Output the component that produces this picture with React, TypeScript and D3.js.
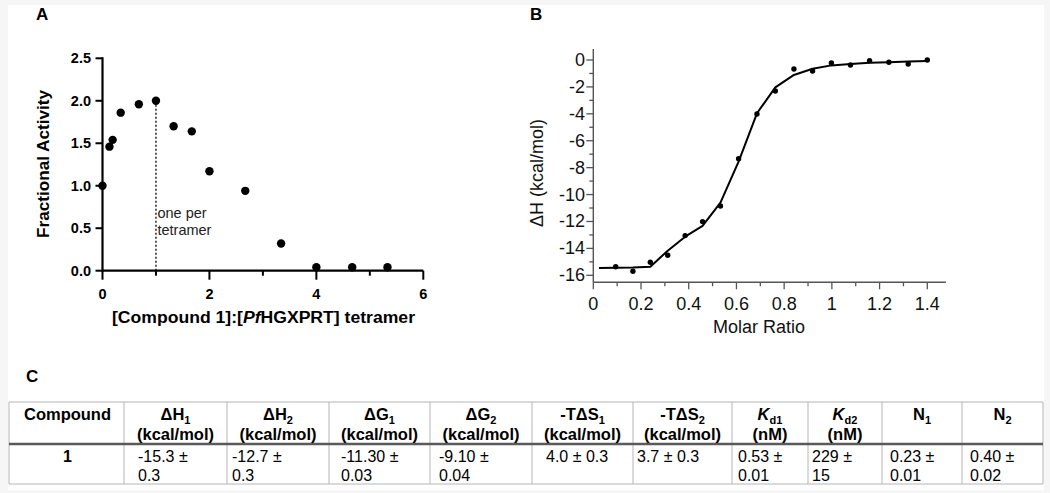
import React from "react";
import * as d3 from "d3";

// ---------- Panel A data ----------
const ratioA = [0, 0.13, 0.19, 0.34, 0.68, 1.0, 1.33, 1.67, 2.0, 2.67, 3.34, 4.0, 4.67, 5.33];
const activityA = [1.0, 1.46, 1.54, 1.86, 1.96, 2.0, 1.7, 1.64, 1.17, 0.94, 0.32, 0.04, 0.04, 0.04];
const xTicksA = [0, 2, 4, 6];
const xMinorA = [1, 3, 5];
const yTicksA = [0, 0.5, 1.0, 1.5, 2.0, 2.5];
const markerA = 1.0;

// ---------- Panel B data ----------
const ratioB = [0.094, 0.166, 0.239, 0.312, 0.385, 0.458, 0.533, 0.609, 0.686, 0.763, 0.841, 0.919, 0.998, 1.078, 1.158, 1.239, 1.32, 1.4];
const dhB = [-15.36, -15.7, -15.03, -14.51, -13.05, -12.01, -10.85, -7.33, -4.01, -2.3, -0.67, -0.82, -0.22, -0.37, -0.05, -0.17, -0.3, 0.0];
const fitRatioB = [0.024, 0.094, 0.166, 0.239, 0.312, 0.385, 0.458, 0.533, 0.609, 0.686, 0.763, 0.841, 0.919, 0.998, 1.078, 1.158, 1.239, 1.32, 1.4];
const fitDhB = [-15.45, -15.44, -15.42, -15.36, -14.17, -13.13, -12.33, -10.6, -7.55, -3.96, -2.03, -1.11, -0.65, -0.4, -0.3, -0.21, -0.16, -0.12, -0.07];
const xTicksB = [0, 0.2, 0.4, 0.6, 0.8, 1.0, 1.2, 1.4];
const xMinorB = [0.1, 0.3, 0.5, 0.7, 0.9, 1.1, 1.3];
const yTicksB = [0, -2, -4, -6, -8, -10, -12, -14, -16];
const yMinorB = [-1, -3, -5, -7, -9, -11, -13, -15];

// ---------- Panel C data ----------
const headMain = ["Compound", "ΔH", "ΔH", "ΔG", "ΔG", "-TΔS", "-TΔS", "K", "K", "N", "N"];
const headSub = ["", "1", "2", "1", "2", "1", "2", "d1", "d2", "1", "2"];
const headUnit = ["", "(kcal/mol)", "(kcal/mol)", "(kcal/mol)", "(kcal/mol)", "(kcal/mol)", "(kcal/mol)", "(nM)", "(nM)", "", ""];
const rowValues = [
  ["1"],
  ["-15.3 ±", "0.3"],
  ["-12.7 ±", "0.3"],
  ["-11.30 ±", "0.03"],
  ["-9.10 ±", "0.04"],
  ["4.0 ± 0.3"],
  ["3.7 ± 0.3"],
  ["0.53 ±", "0.01"],
  ["229 ±", "15"],
  ["0.23 ±", "0.01"],
  ["0.40 ±", "0.02"],
];

// ---------- layout ----------
const colEdges = [9, 124, 227, 329, 430, 532, 633, 732, 808, 882, 962, 1043];
const cellPad = [0, 14, 5, 12, 9, 14, 4, 6, 4, 8, 8];
const FONT = "Liberation Sans, Arial, sans-serif";

export default function App() {
  const xA = d3.scaleLinear().domain([0, 6]).range([102.5, 423.3]);
  const yA = d3.scaleLinear().domain([0, 2.5]).range([270.7, 58.3]);
  const xB = d3.scaleLinear().domain([0, 1.4]).range([593.3, 927.3]);
  const yB = d3.scaleLinear().domain([-16, 0]).range([275.3, 60]);
  const fitLine = d3
    .line<number>()
    .x((d, i) => xB(fitRatioB[i]))
    .y((d) => yB(d));
  const fmtA = d3.format(".1f");
  const fmtB = (v: number) => (v === 0 ? "0" : String(v).replace("\u2212", "-"));

  const yBottomB = yB(-16.52);
  const yTopB = yB(0.82);
  const xEndB = xB(1.478);

  const tTop = 402, tSep = 444, tBot = 484;

  return (
    <svg
      width={1050}
      height={493}
      style={{ position: "absolute", left: 0, top: 0 }}
      fontFamily={FONT}
    >
      <rect x={0} y={0} width={1050} height={493} fill="#f6f6f6" />
      <rect x={8} y={5} width={1036} height={485} fill="#ffffff" />

      {/* ---------------- Panel A ---------------- */}
      <text x={36} y={20} fontSize={17} fontWeight="bold">A</text>
      <line x1={xA(0)} x2={xA(6)} y1={yA(0)} y2={yA(0)} stroke="#000" strokeWidth={2.2} />
      <line x1={xA(0)} x2={xA(0)} y1={yA(0) + 1} y2={yA(2.5) - 1} stroke="#000" strokeWidth={2.2} />
      {yTicksA.map((t) => (
        <g key={"ya" + t}>
          <line x1={xA(0) - 7} x2={xA(0)} y1={yA(t)} y2={yA(t)} stroke="#000" strokeWidth={2} />
          <text x={91} y={yA(t)} dominantBaseline="central" textAnchor="end" fontSize={14.5} fontWeight="bold">
            {fmtA(t)}
          </text>
        </g>
      ))}
      {xTicksA.map((t) => (
        <g key={"xa" + t}>
          <line x1={xA(t)} x2={xA(t)} y1={yA(0)} y2={yA(0) + 9} stroke="#000" strokeWidth={2} />
          <text x={xA(t)} y={293.5} dominantBaseline="central" textAnchor="middle" fontSize={14.5} fontWeight="bold">
            {t}
          </text>
        </g>
      ))}
      {xMinorA.map((t) => (
        <line key={"xma" + t} x1={xA(t)} x2={xA(t)} y1={yA(0)} y2={yA(0) + 5} stroke="#000" strokeWidth={2} />
      ))}
      <line
        x1={xA(markerA)}
        x2={xA(markerA)}
        y1={yA(2.0)}
        y2={yA(0)}
        stroke="#000"
        strokeWidth={1.3}
        strokeDasharray="2,2"
      />
      <text x={xA(markerA) + 1.5} y={213} dominantBaseline="central" fontSize={14.5} fill="#222">one per</text>
      <text x={xA(markerA) + 1.5} y={230} dominantBaseline="central" fontSize={14.5} fill="#222">tetramer</text>
      {ratioA.map((r, i) => (
        <circle key={"pa" + i} cx={xA(r)} cy={yA(activityA[i])} r={4.2} fill="#000" />
      ))}
      <text
        transform="translate(43.5,164) rotate(-90)"
        textAnchor="middle"
        dominantBaseline="central"
        fontSize={15.8}
        fontWeight="bold"
        textLength={148}
        lengthAdjust="spacingAndGlyphs"
      >
        Fractional Activity
      </text>
      <text
        x={263.5}
        y={317}
        textAnchor="middle"
        dominantBaseline="central"
        fontSize={16}
        fontWeight="bold"
        textLength={303}
        lengthAdjust="spacingAndGlyphs"
      >
        [Compound 1]:[<tspan fontStyle="italic">Pf</tspan>HGXPRT] tetramer
      </text>

      {/* ---------------- Panel B ---------------- */}
      <text x={530} y={20} fontSize={17} fontWeight="bold">B</text>
      <line x1={xB(0)} x2={xEndB} y1={yBottomB} y2={yBottomB} stroke="#555" strokeWidth={1.4} />
      <line x1={xB(0)} x2={xB(0)} y1={yBottomB} y2={yTopB} stroke="#555" strokeWidth={1.4} />
      {yTicksB.map((t) => (
        <g key={"yb" + t}>
          <line x1={xB(0) - 7} x2={xB(0)} y1={yB(t)} y2={yB(t)} stroke="#555" strokeWidth={1.3} />
          <text x={585} y={yB(t)} dominantBaseline="central" textAnchor="end" fontSize={18} fill="#111">
            {fmtB(t)}
          </text>
        </g>
      ))}
      {yMinorB.map((t) => (
        <line key={"ymb" + t} x1={xB(0) - 4} x2={xB(0)} y1={yB(t)} y2={yB(t)} stroke="#555" strokeWidth={1.3} />
      ))}
      {xTicksB.map((t) => (
        <g key={"xb" + t}>
          <line x1={xB(t)} x2={xB(t)} y1={yBottomB} y2={yBottomB + 7} stroke="#555" strokeWidth={1.3} />
          <text x={xB(t)} y={303.5} dominantBaseline="central" textAnchor="middle" fontSize={18} fill="#111">
            {fmtB(t)}
          </text>
        </g>
      ))}
      {xMinorB.map((t) => (
        <line key={"xmb" + t} x1={xB(t)} x2={xB(t)} y1={yBottomB} y2={yBottomB + 4} stroke="#555" strokeWidth={1.3} />
      ))}
      <path d={fitLine(fitDhB) || ""} fill="none" stroke="#000" strokeWidth={2} strokeLinejoin="round" />
      {ratioB.map((r, i) => (
        <circle key={"pb" + i} cx={xB(r)} cy={yB(dhB[i])} r={2.7} fill="#000" />
      ))}
      <text
        transform="translate(537,173) rotate(-90)"
        textAnchor="middle"
        dominantBaseline="central"
        fontSize={18}
        fill="#111"
      >
        ΔH (kcal/mol)
      </text>
      <text x={759} y={327} textAnchor="middle" dominantBaseline="central" fontSize={18} fill="#111">
        Molar Ratio
      </text>

      {/* ---------------- Panel C ---------------- */}
      <text x={26} y={382} fontSize={17} fontWeight="bold">C</text>
      <g stroke="#b5b5b5" strokeWidth={1}>
        <line x1={colEdges[0]} x2={colEdges[colEdges.length - 1]} y1={tTop} y2={tTop} />
        <line x1={colEdges[0]} x2={colEdges[colEdges.length - 1]} y1={tBot} y2={tBot} />
        {colEdges.map((x, i) => (
          <line key={"ce" + i} x1={x} x2={x} y1={tTop} y2={tBot} />
        ))}
      </g>
      <line
        x1={colEdges[0]}
        x2={colEdges[colEdges.length - 1]}
        y1={tSep}
        y2={tSep}
        stroke="#5a5a5a"
        strokeWidth={2.5}
      />
      {headMain.map((h, i) => {
        const cx = (colEdges[i] + colEdges[i + 1]) / 2;
        return (
          <g key={"h" + i}>
            <text x={cx + (i === 0 ? 1 : 0)} y={420} textAnchor="middle" fontSize={16.5} fontWeight="bold">
              <tspan fontStyle={h === "K" ? "italic" : "normal"}>{h}</tspan>
              {headSub[i] ? (
                <tspan dy={4} fontSize={11}>
                  {headSub[i]}
                </tspan>
              ) : null}
            </text>
            {headUnit[i] ? (
              <text x={cx} y={440} textAnchor="middle" fontSize={16.5} fontWeight="bold">
                {headUnit[i]}
              </text>
            ) : null}
          </g>
        );
      })}
      {rowValues.map((lines, i) => {
        const centered = i === 0;
        const x = centered ? (colEdges[i] + colEdges[i + 1]) / 2 + 1 : colEdges[i] + cellPad[i];
        return (
          <g key={"r" + i}>
            {lines.map((ln, j) => (
              <text
                key={j}
                x={x}
                y={461.5 + j * 19}
                textAnchor={centered ? "middle" : "start"}
                fontSize={16}
                fontWeight={centered ? "bold" : "normal"}
              >
                {ln}
              </text>
            ))}
          </g>
        );
      })}
    </svg>
  );
}
